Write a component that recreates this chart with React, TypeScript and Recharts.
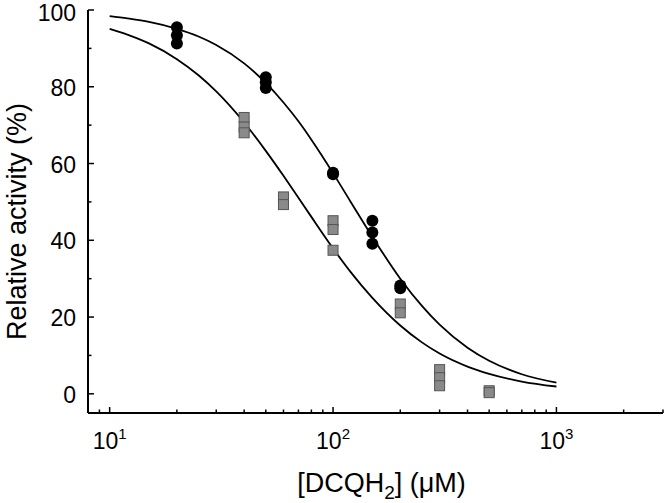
import { ComposedChart, XAxis, YAxis, Line, Scatter } from 'recharts'

// measured points, wild type (circles) and mutant (squares)
const circleConc = [20, 20, 20, 50, 50, 50, 100, 100, 150, 150, 150, 200, 200]
const circleAct = [95.5, 93.4, 91.3, 82.5, 81.2, 79.7, 57.6, 57.2, 45.1, 42.0, 39.1, 28.2, 27.5]

const squareConc = [40, 40, 40, 60, 60, 100, 100, 100, 200, 200, 300, 300, 300, 500, 500]
const squareAct = [72.0, 69.5, 68.0, 51.3, 49.3, 45.1, 42.8, 37.4, 23.4, 21.1, 6.3, 4.2, 2.1, 0.8, 0.3]

// fitted inhibition curves
const curveConc = [10, 12, 15, 20, 25, 30, 40, 50, 60, 70, 80, 100, 120, 150, 200, 250, 300, 400, 500, 700, 1000]
const circleFit = [98.4, 97.8, 96.9, 95.1, 93.1, 90.9, 86.1, 81.0, 75.9, 71.0, 66.2, 57.5, 50.0, 40.9, 30.0, 22.9, 18.0, 12.0, 8.6, 5.1, 2.9]
const squareFit = [95.1, 93.6, 91.3, 87.2, 83.0, 78.8, 70.7, 63.3, 56.8, 51.1, 46.1, 37.9, 31.7, 25.0, 17.8, 13.4, 10.5, 7.1, 5.2, 3.2, 1.9]

const xTicks = [8, 9, 10, 20, 30, 40, 50, 60, 70, 80, 90, 100, 200, 300, 400, 500, 600, 700, 800, 900, 1000, 2000, 3000]
const xMajor = [10, 100, 1000]
const yTicks = [0, 10, 20, 30, 40, 50, 60, 70, 80, 90, 100]

const circles = circleConc.map((x, i) => ({ x, y: circleAct[i] }))
const squares = squareConc.map((x, i) => ({ x, y: squareAct[i] }))
const circleLine = curveConc.map((x, i) => ({ x, y: circleFit[i] }))
const squareLine = curveConc.map((x, i) => ({ x, y: squareFit[i] }))

const FONT = 'Liberation Sans, Arial, sans-serif'

const BottomTick = ({ x, y, payload }: any) => {
  const major = xMajor.includes(payload.value)
  return (
    <g>
      <line x1={x} x2={x} y1={y} y2={y - (major ? 6 : 3.5)} stroke="#000" strokeWidth={1.5} />
      {major && (
        <text x={x} y={y + 36} textAnchor="middle" fontSize={23} fontFamily={FONT} fill="#000">
          10<tspan dy={-10} fontSize={15}>{Math.round(Math.log10(payload.value))}</tspan>
        </text>
      )}
    </g>
  )
}

const TopTick = ({ x, y, payload }: any) => {
  const major = xMajor.includes(payload.value)
  return <line x1={x} x2={x} y1={y} y2={y + (major ? 6 : 3.5)} stroke="#000" strokeWidth={1.5} />
}

const LeftTick = ({ x, y, payload }: any) => {
  const major = payload.value % 20 === 0
  // keep the top label inside the svg
  const ty = Math.max(y + 9, 21)
  return (
    <g>
      <line x1={x} x2={x + (major ? 6 : 3.5)} y1={y} y2={y} stroke="#000" strokeWidth={1.5} />
      {major && (
        <text x={x - 12} y={ty} textAnchor="end" fontSize={23} fontFamily={FONT} fill="#000">
          {payload.value}
        </text>
      )}
    </g>
  )
}

const RightTick = ({ x, y, payload }: any) => {
  const major = payload.value % 20 === 0
  return <line x1={x} x2={x - (major ? 6 : 3.5)} y1={y} y2={y} stroke="#000" strokeWidth={1.5} />
}

const XTitle = ({ viewBox }: any) => {
  const cx = viewBox.x + viewBox.width / 2 + 6
  return (
    <text x={cx} y={viewBox.y + 79} textAnchor="middle" fontSize={27} fontFamily={FONT} fill="#000">
      [DCQH<tspan dy={7} fontSize={19}>2</tspan>
      <tspan dy={-7}>] (μM)</tspan>
    </text>
  )
}

const YTitle = ({ viewBox }: any) => {
  const cy = viewBox.y + viewBox.height / 2 + 10
  return (
    <text
      x={26}
      y={cy}
      transform={`rotate(-90, 26, ${cy})`}
      textAnchor="middle"
      fontSize={27}
      fontFamily={FONT}
      fill="#000"
    >
      Relative activity (%)
    </text>
  )
}

const Dot = ({ cx, cy }: any) => <circle cx={cx} cy={cy} r={6} fill="#000" />
const Square = ({ cx, cy }: any) => (
  <rect x={cx - 5} y={cy - 5} width={10} height={10} fill="#8a8a8a" stroke="#555" strokeWidth={1} />
)

export default function App() {
  const frame = { stroke: '#000', strokeWidth: 2 }
  return (
    <div style={{ position: 'absolute', left: 0, top: 0, background: '#fff' }}>
      <ComposedChart width={666} height={503} margin={{ top: 10, right: 3, bottom: 0, left: 0 }}>
        <XAxis
          xAxisId="b"
          dataKey="x"
          type="number"
          scale="log"
          domain={[8, 3000]}
          allowDataOverflow
          ticks={xTicks}
          interval={0}
          height={90}
          tickSize={0}
          tickMargin={0}
          tickLine={false}
          axisLine={frame}
          tick={<BottomTick />}
          label={<XTitle />}
        />
        <XAxis
          xAxisId="t"
          orientation="top"
          type="number"
          scale="log"
          domain={[8, 3000]}
          allowDataOverflow
          ticks={xTicks}
          interval={0}
          height={0}
          tickSize={0}
          tickMargin={0}
          tickLine={false}
          axisLine={frame}
          tick={<TopTick />}
        />
        <YAxis
          yAxisId="l"
          type="number"
          domain={[-5, 100]}
          allowDataOverflow
          ticks={yTicks}
          interval={0}
          width={88}
          tickSize={0}
          tickMargin={0}
          tickLine={false}
          axisLine={frame}
          tick={<LeftTick />}
          label={<YTitle />}
        />
        <YAxis
          yAxisId="r"
          orientation="right"
          type="number"
          domain={[-5, 100]}
          allowDataOverflow
          ticks={yTicks}
          interval={0}
          width={0}
          tickSize={0}
          tickMargin={0}
          tickLine={false}
          axisLine={frame}
          tick={<RightTick />}
        />
        <Scatter xAxisId="b" yAxisId="l" data={squares} dataKey="y" shape={<Square />} isAnimationActive={false} />
        <Scatter xAxisId="b" yAxisId="l" data={circles} dataKey="y" shape={<Dot />} isAnimationActive={false} />
        <Line
          xAxisId="b"
          yAxisId="l"
          data={circleLine}
          dataKey="y"
          type="monotone"
          stroke="#000"
          strokeWidth={1.8}
          dot={false}
          isAnimationActive={false}
        />
        <Line
          xAxisId="b"
          yAxisId="l"
          data={squareLine}
          dataKey="y"
          type="monotone"
          stroke="#000"
          strokeWidth={1.8}
          dot={false}
          isAnimationActive={false}
        />
      </ComposedChart>
    </div>
  )
}
